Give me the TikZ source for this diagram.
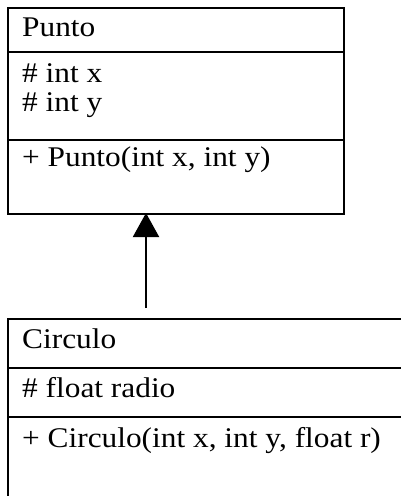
\documentclass[tikz,border=0pt]{standalone}
\usepackage{fontspec}
\setmainfont{Liberation Serif}[FakeStretch=1.1]
\usetikzlibrary{arrows.meta}
\begin{document}
\begin{tikzpicture}[x=1pt,y=1pt,
  boxline/.style={line width=2pt},
  lbl/.style={anchor=base west,inner sep=0pt,font=\fontsize{28.5}{32}\selectfont},
  inherit/.style={line width=2pt,-{Triangle[length=24pt,width=26pt]}}]
\useasboundingbox (0,0) rectangle (401,-496);
\clip (0,0) rectangle (401,-496);
% Punto class
\node[boxline,draw,rectangle,minimum width=336pt,minimum height=206pt,anchor=north west,inner sep=0pt] (punto) at (7,-7) {};
\draw[boxline] (7,-52) -- (343,-52);
\draw[boxline] (7,-140) -- (343,-140);
\node[lbl] (pname) at (22,-36) {Punto};
\node[lbl] (px) at (22,-82) {\# int x};
\node[lbl] (py) at (22,-111) {\# int y};
\node[lbl] (pop) at (22,-166) {+ Punto(int x, int y)};
% Circulo class (cut off at right and bottom)
\node[boxline,draw,rectangle,minimum width=420pt,minimum height=200pt,anchor=north west,inner sep=0pt] (circulo) at (7,-318) {};
\draw[boxline] (7,-368) -- (430,-368);
\draw[boxline] (7,-417) -- (430,-417);
\node[lbl] (cname) at (22,-348) {Circulo};
\node[lbl] (cr) at (22,-397) {\# float radio};
\node[lbl] (cop) at (22,-447) {+ Circulo(int x, int y, float r)};
% inheritance arrow
\coordinate (tail) at (146,-308);
\coordinate (tip) at (146,-213);
\draw[inherit] (tail) -- (tip);
\end{tikzpicture}
\end{document}
